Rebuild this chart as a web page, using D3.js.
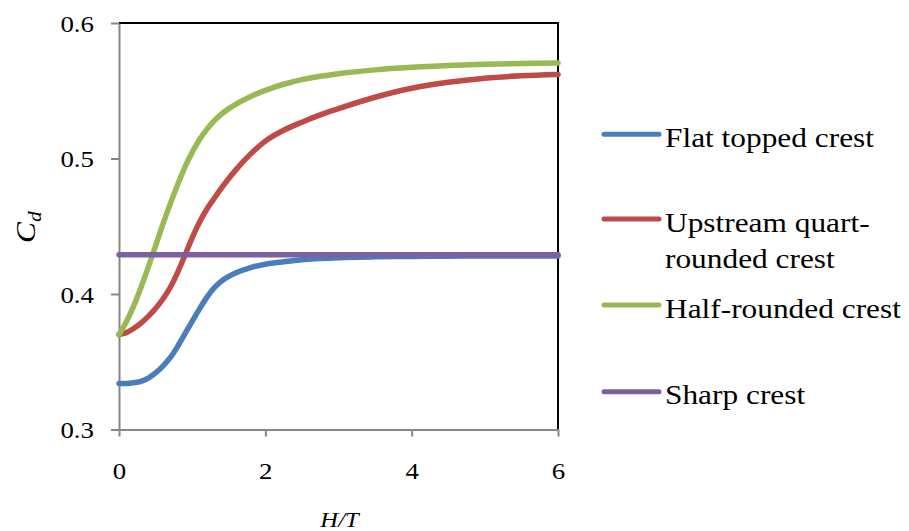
<!DOCTYPE html>
<html>
<head>
<meta charset="utf-8">
<script src="https://cdn.jsdelivr.net/npm/d3@7"></script>
<style>
  html, body { margin: 0; padding: 0; background: #fff; }
  svg { display: block; }
  text { font-family: "Liberation Serif", "Times New Roman", serif; fill: #000; }
</style>
</head>
<body>
<svg id="chart" width="909" height="531"></svg>
<script>
// ---- data ----
const xGrid = [0, 0.1, 0.2, 0.3, 0.4, 0.5, 0.6, 0.7, 0.8, 0.9, 1.0, 1.1, 1.2, 1.3, 1.4, 1.5, 1.6, 1.8, 2.0, 2.25, 2.5, 2.75, 3.0, 3.5, 4.0, 4.5, 5.0, 5.5, 6.0];
const cdFlatTopped = [0.334, 0.334, 0.3345, 0.3355, 0.338, 0.3418, 0.3468, 0.353, 0.3612, 0.3705, 0.3798, 0.389, 0.3975, 0.4045, 0.4095, 0.413, 0.4157, 0.4195, 0.422, 0.4238, 0.4252, 0.4262, 0.4268, 0.4274, 0.4277, 0.4279, 0.428, 0.428, 0.428];
const cdUpstreamQuart = [0.370, 0.3715, 0.3745, 0.3785, 0.3835, 0.3893, 0.3963, 0.4048, 0.4158, 0.4285, 0.4415, 0.453, 0.4625, 0.4705, 0.4781, 0.4852, 0.4918, 0.5034, 0.5128, 0.5208, 0.5268, 0.5322, 0.5368, 0.5452, 0.5518, 0.5562, 0.5592, 0.561, 0.562];
const cdHalfRounded = [0.370, 0.3795, 0.391, 0.4048, 0.4198, 0.4355, 0.4515, 0.4665, 0.4805, 0.4935, 0.5045, 0.514, 0.5215, 0.5278, 0.5328, 0.5368, 0.5402, 0.5458, 0.5503, 0.5548, 0.5582, 0.5607, 0.5626, 0.5654, 0.5673, 0.5687, 0.5696, 0.5702, 0.5705];
const xSharp = [0, 6];
const cdSharp = [0.429, 0.429];

const seriesNames = ["Flat topped crest", "Upstream quart-\nrounded crest", "Half-rounded crest", "Sharp crest"];
const seriesColors = ["#4A7EBB", "#BE4B48", "#98B954", "#7D60A0"];
const xTicks = [0, 2, 4, 6];
const yTicks = [0.3, 0.4, 0.5, 0.6];

// ---- layout ----
const svg = d3.select("#chart");
const plotLeft = 119, plotRight = 558, plotTop = 23, plotBottom = 429.5;
const TX = 1.12; // horizontal stretch of the reference text

const x = d3.scaleLinear().domain([0, 6]).range([plotLeft, plotRight]);
const y = d3.scaleLinear().domain([0.3, 0.6]).range([plotBottom, plotTop]);

// plot frame (top/right black)
svg.append("path")
  .attr("d", `M${plotLeft},${plotTop}H${plotRight}V${plotBottom}`)
  .attr("fill", "none").attr("stroke", "#000").attr("stroke-width", 2);

// y axis
const gy = svg.append("g").attr("transform", `translate(${plotLeft},0)`)
  .call(d3.axisLeft(y).tickValues(yTicks).tickFormat(d3.format(".1f")).tickSize(8).tickSizeOuter(0).tickPadding(17));
gy.select(".domain").attr("stroke", "#868686").attr("stroke-width", 2);
gy.selectAll(".tick line").attr("stroke", "#868686").attr("stroke-width", 2);
gy.selectAll(".tick text")
  .attr("font-size", 24).attr("font-family", "Liberation Serif, serif").attr("fill", "#000")
  .attr("x", null).attr("dy", "0.34em")
  .attr("transform", `translate(-25,0) scale(${TX},1)`);

// x axis
const gx = svg.append("g").attr("transform", `translate(0,${plotBottom})`)
  .call(d3.axisBottom(x).tickValues(xTicks).tickFormat(d3.format("d")).tickSize(7).tickSizeOuter(0).tickPadding(25));
gx.select(".domain").attr("stroke", "#868686").attr("stroke-width", 2);
gx.selectAll(".tick line").attr("stroke", "#868686").attr("stroke-width", 2);
gx.selectAll(".tick text")
  .attr("font-size", 24).attr("font-family", "Liberation Serif, serif").attr("fill", "#000")
  .attr("transform", `scale(${TX},1)`);

// lines
const line = d3.line().x(d => x(d[0])).y(d => y(d[1])).curve(d3.curveMonotoneX);
const seriesData = [
  d3.zip(xGrid, cdFlatTopped),
  d3.zip(xGrid, cdUpstreamQuart),
  d3.zip(xGrid, cdHalfRounded),
  d3.zip(xSharp, cdSharp)
];
svg.append("g").selectAll("path").data(seriesData).join("path")
  .attr("d", line)
  .attr("fill", "none")
  .attr("stroke", (d, i) => seriesColors[i])
  .attr("stroke-width", 5.5)
  .attr("stroke-linecap", "round")
  .attr("stroke-linejoin", "round");

// axis titles
const yt = svg.append("text")
  .attr("transform", `translate(35,243) rotate(-90) scale(${TX},1)`)
  .attr("font-size", 28).attr("font-style", "italic");
yt.append("tspan").text("C");
yt.append("tspan").attr("font-size", 19).attr("dy", 6).text("d");

svg.append("text")
  .attr("transform", `translate(339.5,527) scale(${TX},1)`)
  .attr("text-anchor", "middle")
  .attr("font-size", 22).attr("font-style", "italic")
  .text("H/T");

// legend
const legendY = [134.3, 219, 305, 391.7];
const lg = svg.append("g");
seriesNames.forEach((name, i) => {
  lg.append("line")
    .attr("x1", 604).attr("x2", 659)
    .attr("y1", legendY[i]).attr("y2", legendY[i])
    .attr("stroke", seriesColors[i]).attr("stroke-width", 5)
    .attr("stroke-linecap", "round");
  const t = lg.append("text")
    .attr("transform", `translate(665,${legendY[i] + 12.5}) scale(${TX},1)`)
    .attr("font-size", 28);
  name.split("\n").forEach((part, j) => {
    t.append("tspan").attr("x", 0).attr("dy", j === 0 ? 0 : 36.3).text(part);
  });
});
</script>
</body>
</html>
